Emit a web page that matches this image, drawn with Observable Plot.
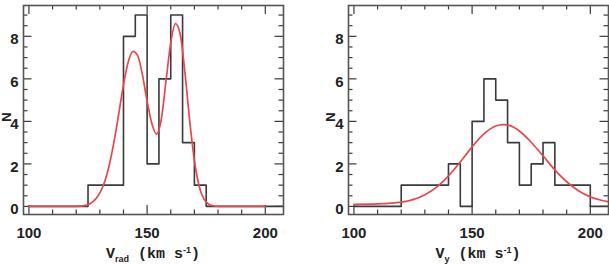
<!DOCTYPE html>
<html>
<head>
<meta charset="utf-8">
<script src="https://cdn.jsdelivr.net/npm/d3@7"></script>
<script src="https://cdn.jsdelivr.net/npm/@observablehq/plot@0.6"></script>
<style>
  html, body { margin: 0; padding: 0; background: #fff; }
  #wrap { display: flex; width: 609px; height: 265px; overflow: hidden; }
  #wrap svg { display: block; flex: none; }
</style>
</head>
<body>
<div id="wrap"></div>
<script>
// Histogram bin edges (km/s), 5 km/s bins
const velocityEdges = [100, 105, 110, 115, 120, 125, 130, 135, 140, 145, 150,
                       155, 160, 165, 170, 175, 180, 185, 190, 195, 200];

// Counts per bin
const vradCounts   = [0, 0, 0, 0, 0, 1, 1, 1, 8, 9, 2, 6, 9, 3, 1, 0, 0, 0, 0, 0];
const vgammaCounts = [0, 0, 0, 0, 1, 1, 1, 1, 2, 0, 4, 6, 5, 3, 1, 2, 3, 1, 1, 1];

// Fitted model curves
const vradFitV = [100, 110, 120, 124, 126, 128, 130, 132, 134, 136, 138, 140, 142, 144, 146, 148,
                  150, 152, 154, 156, 158, 160, 162, 164, 166, 168, 170, 172, 174, 176, 178, 180, 190, 200];
const vradFitN = [0, 0, 0, 0.05, 0.14, 0.32, 0.64, 1.15, 1.95, 3.05, 4.36, 5.72, 6.79, 7.29, 7.09, 6.2,
                  4.95, 3.9, 3.4, 4.1, 5.9, 7.7, 8.6, 8.1, 6.3, 4.05, 2.17, 0.96, 0.35, 0.11, 0.03, 0, 0, 0];

const vgammaFitV = [100, 110, 120, 125, 130, 135, 140, 145, 150, 155, 160, 163, 166, 170, 175,
                    180, 185, 190, 195, 200, 205, 210];
const vgammaFitN = [0.10, 0.12, 0.20, 0.32, 0.55, 0.91, 1.44, 2.09, 2.80, 3.41, 3.78, 3.85, 3.80, 3.55, 3.02,
                    2.38, 1.72, 1.16, 0.74, 0.45, 0.28, 0.18];

// Axis ticks
const xMajor = [100, 150, 200];
const xMinor = [110, 120, 130, 140, 160, 170, 180, 190];
const yMajor = [0, 2, 4, 6, 8];
const yMinor = [0.5, 1, 1.5, 2.5, 3, 3.5, 4.5, 5, 5.5, 6.5, 7, 7.5, 8.5, 9];

const H = 265, MT = 5, MB = 51;
const INK = "#3a3a3a";
const RED = "#e8474c";
const SANS = "'Liberation Sans', Arial, Helvetica, sans-serif";
const MONO = "'Liberation Mono', 'Courier New', monospace";

function panel({counts, fitV, fitN, width, marginLeft, marginRight, sub, nX}) {
  const fh = H - MT - MB;
  const fw = width - marginLeft - marginRight;

  const steps = velocityEdges.map((v, i) => ({v, n: counts[Math.min(i, counts.length - 1)]}));
  steps.push({v: 200, n: 0}, {v: 210, n: 0});
  const fit = fitV.map((v, i) => ({v, n: fitN[i]}));

  const tk = {stroke: INK, strokeWidth: 1.2};
  const xTicks = (t, len) => [
    Plot.tickX(t, {x: d => d, insetTop: fh - len, ...tk}),
    Plot.tickX(t, {x: d => d, insetBottom: fh - len, ...tk})
  ];
  const yTicks = (t, len) => [
    Plot.tickY(t, {y: d => d, insetRight: fw - len, ...tk}),
    Plot.tickY(t, {y: d => d, insetLeft: fw - len, ...tk})
  ];
  const lab = {fill: "#222", fontSize: 15, fontWeight: "bold", fontFamily: SANS};

  const svg = Plot.plot({
    width, height: H,
    marginTop: MT, marginBottom: MB, marginLeft, marginRight,
    style: {background: "#fff", fontFamily: SANS},
    x: {domain: [97.7, 207.7], axis: null},
    y: {domain: [-0.38, 9.45], axis: null},
    marks: [
      ...xTicks(xMajor, 9), ...xTicks(xMinor, 4.5),
      ...yTicks(yMajor, 8.5), ...yTicks(yMinor, 4.5),
      Plot.lineY(steps, {x: "v", y: "n", curve: "step-after", stroke: INK, strokeWidth: 1.6, clip: true}),
      Plot.lineY(fit, {x: "v", y: "n", curve: "monotone-x", stroke: RED, strokeWidth: 1.7, clip: true}),
      Plot.frame({stroke: "#555", strokeWidth: 1.6}),
      Plot.text(xMajor, {x: d => d, frameAnchor: "bottom", dy: 23, text: d => String(d), ...lab}),
      Plot.text(yMajor, {y: d => d, frameAnchor: "left", dx: -5, dy: 3, textAnchor: "end", text: d => String(d), ...lab})
    ]
  });

  const s = d3.select(svg);
  // y-axis title
  s.append("text")
    .attr("transform", `translate(${nX},117) rotate(-90)`)
    .attr("text-anchor", "middle")
    .attr("dominant-baseline", "middle")
    .attr("font-family", SANS).attr("font-weight", "bold").attr("font-size", 13)
    .attr("fill", "#222")
    .text("N");

  // x-axis title with subscript and superscript
  const t = s.append("text")
    .attr("x", marginLeft + fw / 2)
    .attr("y", 258)
    .attr("text-anchor", "middle")
    .attr("font-family", MONO).attr("font-weight", "bold").attr("font-size", 15)
    .attr("fill", "#222");
  t.append("tspan").text("V");
  t.append("tspan").attr("dy", 4).attr("font-size", 9).attr("font-family", SANS).text(sub);
  t.append("tspan").attr("dy", -4).text(" (km s");
  t.append("tspan").attr("dy", -5).attr("font-size", 9).attr("font-family", SANS).text("-1");
  t.append("tspan").attr("dy", 5).text(")");
  return svg;
}

const wrap = document.getElementById("wrap");
wrap.append(panel({counts: vradCounts, fitV: vradFitV, fitN: vradFitN,
                   width: 300, marginLeft: 23, marginRight: 17, sub: "rad", nX: 8}));
wrap.append(panel({counts: vgammaCounts, fitV: vgammaFitV, fitN: vgammaFitN,
                   width: 309, marginLeft: 48, marginRight: 1, sub: "y", nX: 32}));
</script>
</body>
</html>
